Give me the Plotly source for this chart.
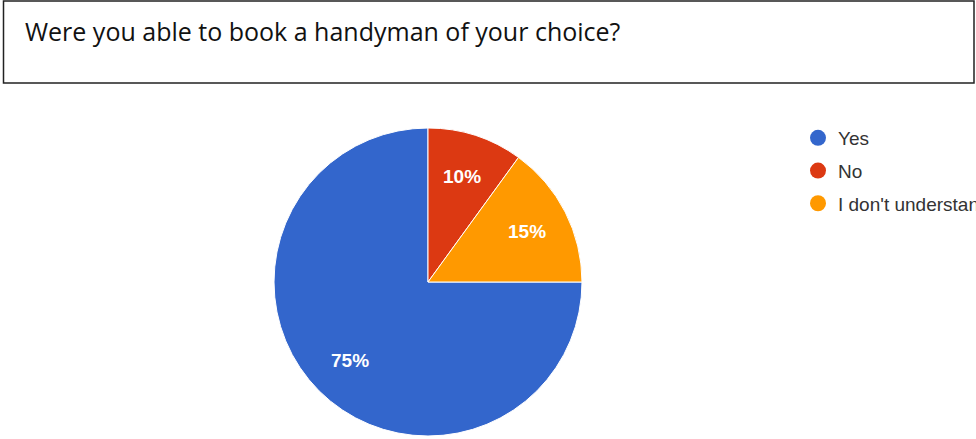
import math
import plotly.graph_objects as go

W, H = 976, 439

question = "Were you able to book a handyman of your choice?"
labels = ["Yes", "No", "I don't understand"]
values = [75, 10, 15]
colors = ["#3366CC", "#DC3912", "#FF9900"]

fig = go.Figure()

# pie geometry (pixels)
cx, cy, r = 428, 282, 154
start_deg = 90  # first slice starts at 3 o'clock, clockwise
fig.add_trace(go.Pie(
    labels=labels, values=values, sort=False, direction="clockwise", rotation=start_deg,
    marker=dict(colors=colors, line=dict(color="white", width=1)),
    textinfo="none",
    showlegend=False, hoverinfo="label+percent",
    domain=dict(x=[(cx - r) / W, (cx + r) / W], y=[(H - cy - r) / H, (H - cy + r) / H]),
))

# percentage labels placed at slice mid-angles (derived from values)
total = sum(values)
cum = 0
for v in values:
    mid = start_deg + 360 * (cum + v / 2) / total  # degrees clockwise from 12 o'clock
    cum += v
    px = cx + 0.72 * r * math.sin(math.radians(mid))
    py = cy - 0.72 * r * math.cos(math.radians(mid))
    fig.add_annotation(text=f"{round(100 * v / total)}%", xref="paper", yref="paper",
                       x=px / W, y=1 - py / H, xanchor="center", yanchor="middle",
                       showarrow=False,
                       font=dict(family="Arial, Liberation Sans", size=19, color="white",
                                 weight="bold"))

# legend entries with circle symbols
for lab, col in zip(labels, colors):
    fig.add_trace(go.Scatter(x=[None], y=[None], mode="markers", name=lab, legendgroup=lab,
                             marker=dict(symbol="circle", size=20, color=col)))

# title box
fig.add_shape(type="rect", xref="paper", yref="paper",
              x0=3.5 / W, x1=974 / W, y0=1 - 83 / H, y1=1 - 1 / H,
              line=dict(color="#222222", width=1.5), fillcolor="rgba(0,0,0,0)")
fig.add_annotation(text=question, xref="paper", yref="paper",
                   x=23 / W, y=1 - 31 / H, xanchor="left", yanchor="middle",
                   showarrow=False,
                   font=dict(family="Open Sans", size=25, color="#111111"))

fig.update_layout(
    width=W, height=H, margin=dict(l=0, r=0, t=0, b=0, autoexpand=False),
    paper_bgcolor="white", plot_bgcolor="white",
    xaxis=dict(visible=False), yaxis=dict(visible=False),
    legend=dict(x=798 / W, y=1 - 119 / H, xanchor="left", yanchor="top",
                font=dict(family="Arial, Liberation Sans", size=19, color="#333333"),
                bgcolor="rgba(0,0,0,0)", tracegroupgap=5),
)

fig.write_html("out.html")
